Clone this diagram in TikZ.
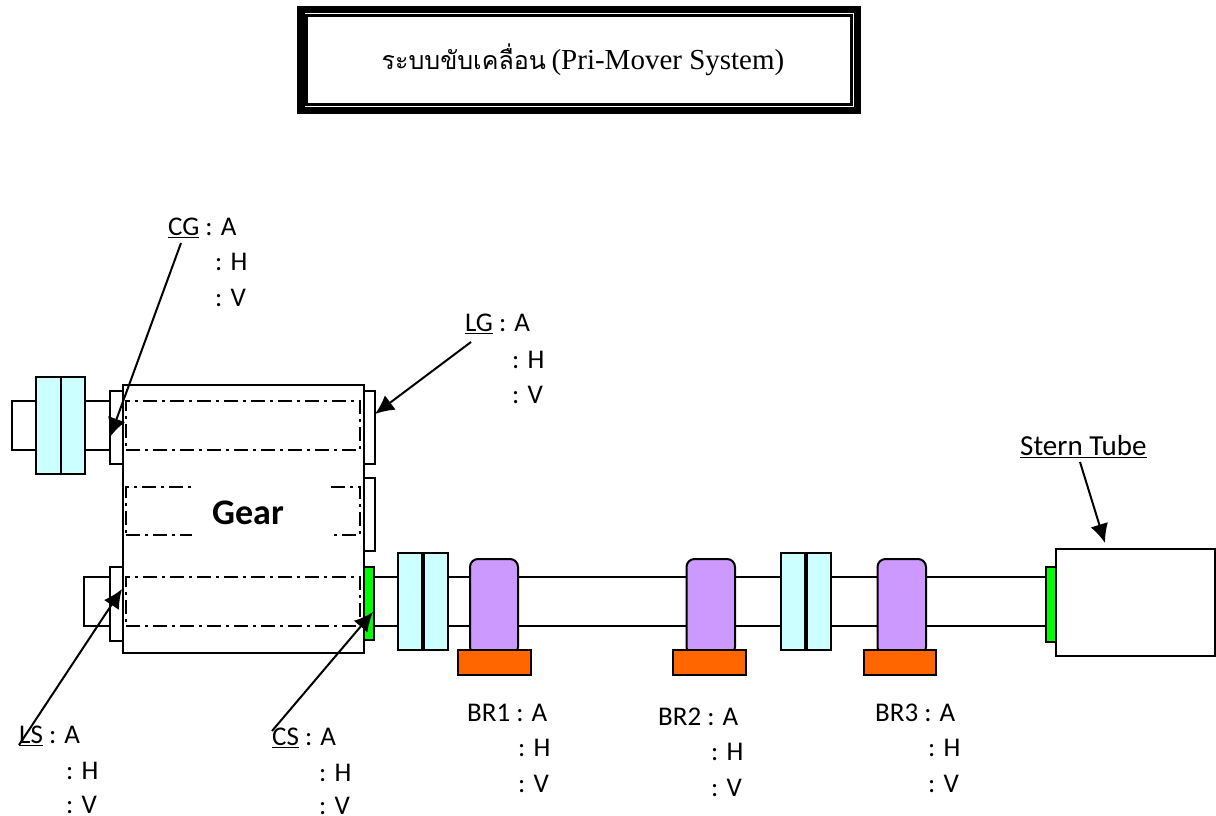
\documentclass[tikz,border=0pt]{standalone}
\usepackage{fontspec}
\setmainfont{Carlito}
\newfontfamily\thaifont[Script=Thai]{Loma}
\newfontfamily\titlefont{Liberation Serif}
\usetikzlibrary{arrows.meta}
\definecolor{cy}{RGB}{204,255,255}
\definecolor{pu}{RGB}{204,153,255}
\definecolor{or}{RGB}{255,102,0}
\definecolor{gr}{RGB}{0,255,0}
\tikzset{
 part/.style={draw=black,line width=2pt,rectangle,inner sep=0pt,outer sep=0pt},
 cyanp/.style={part,fill=cy},
 greenp/.style={part,fill=gr},
 orangep/.style={part,fill=or},
 purplep/.style={part,fill=pu,rounded corners=8pt},
 whitep/.style={part,fill=white},
 hidden/.style={fill=white,inner sep=0pt,outer sep=0pt},
 dashrect/.style={draw=black,line width=1.6pt,dash pattern=on 14pt off 5pt on 3pt off 5pt,rectangle,inner sep=0pt},
 lab/.style={anchor=west,inner sep=0pt,font=\fontsize{27}{29}\selectfont},
 pointer/.style={draw=black,line width=2pt,-{Latex[length=19pt,width=18pt]}},
}
% name, style, x1, y1, x2, y2
\newcommand{\bx}[6]{\node[#2,minimum width={(#5-#3)*1pt},minimum height={(#6-#4)*1pt}] (#1) at ({(#3+#5)/2},{(#4+#6)/2}) {};}
\begin{document}
\begin{tikzpicture}[x=1pt,y=-1pt]
\useasboundingbox (0,0) rectangle (1216,816);
% title
\node[fill=black,inner sep=0pt,minimum width=564pt,minimum height=108pt] (tout) at (579,60) {};
\node[fill=white,inner sep=0pt,minimum width=549pt,minimum height=93pt] (tmid) at (579,60) {};
\node[draw=black,line width=2.5pt,fill=white,inner sep=0pt,minimum width=545pt,minimum height=89pt] (tin) at (579,60) {};
\node[inner sep=0pt] (title) at (583,60) {\fontsize{25}{28}\selectfont{\thaifont ระบบขับเคลื่อน} \titlefont\fontsize{29}{30}\selectfont (Pri-Mover System)};
% shafts
\bx{sh1}{whitep}{360}{577}{400}{626}
\bx{sh2}{whitep}{448}{577}{472}{626}
\bx{sh3}{whitep}{516}{577}{688}{626}
\bx{sh4}{whitep}{733}{577}{783}{626}
\bx{sh5}{whitep}{829}{577}{880}{626}
\bx{sh6}{whitep}{924}{577}{1048}{626}
% left input
\bx{inA}{whitep}{12}{401}{38}{450}
\bx{inB}{whitep}{83}{401}{110}{450}
\bx{cL1}{cyanp}{36}{377}{60.5}{474}
\bx{cL2}{cyanp}{60.5}{377}{85}{474}
\bx{inC}{whitep}{84}{577}{110}{626}
% flanges
\bx{flUL}{whitep}{110}{391}{123}{464}
\bx{flLL}{whitep}{110}{567}{123}{641}
\bx{flUR}{whitep}{362}{391}{375}{464}
\bx{flMR}{whitep}{362}{478}{375}{551}
\bx{flLR}{greenp}{362}{567}{374}{640}
% gear
\bx{gear}{whitep}{122.5}{385}{363.5}{653}
\bx{d1}{dashrect}{126}{401}{360}{450}
\bx{d2}{dashrect}{126}{487}{360}{535}
\bx{d3}{dashrect}{126}{577}{360}{626}
\node[hidden,minimum width=137pt,minimum height=70pt] (gearbg) at (260,511) {};
\node[inner sep=0pt,font=\fontsize{36}{38}\selectfont\bfseries] (geart) at (248,513) {Gear};
% couplings
\bx{c1}{cyanp}{397.5}{553}{422}{650}
\bx{c2}{cyanp}{423.5}{553}{448}{650}
\bx{c3}{cyanp}{781}{553}{805}{650}
\bx{c4}{cyanp}{807}{553}{831}{650}
% bearings
\bx{b1}{purplep}{470}{559}{518}{655}
\bx{b2}{purplep}{686.5}{559}{735}{655}
\bx{b3}{purplep}{877.5}{559}{926}{655}
\bx{o1}{orangep}{457.5}{650}{530.5}{675}
\bx{o2}{orangep}{672.5}{650}{745.5}{675}
\bx{o3}{orangep}{863.5}{650}{936}{675}
% stern tube
\bx{gs}{greenp}{1046}{567}{1057}{642}
\bx{st}{whitep}{1056}{549}{1215}{656}
% labels
\node[lab] (CG) at (168,228) {\underline{CG} : A};
\node[lab] (CGh) at (215,262) {: H};
\node[lab] (CGv) at (215,298) {: V};
\node[lab] (LG) at (465,324) {\underline{LG} : A};
\node[lab] (LGh) at (512,360) {: H};
\node[lab] (LGv) at (512,395) {: V};
\node[lab] (LS) at (19,736) {\underline{LS} : A};
\node[lab] (LSh) at (66,771) {: H};
\node[lab] (LSv) at (66,805) {: V};
\node[lab] (CS) at (272,738) {\underline{CS} : A};
\node[lab] (CSh) at (319,773) {: H};
\node[lab] (CSv) at (319,806) {: V};
\node[lab] (BRa) at (467,713) {BR1 : A};
\node[lab] (BRah) at (518,748) {: H};
\node[lab] (BRav) at (518,784) {: V};
\node[lab] (BRb) at (658,717) {BR2 : A};
\node[lab] (BRbh) at (711,752) {: H};
\node[lab] (BRbv) at (711,788) {: V};
\node[lab] (BRc) at (875,713) {BR3 : A};
\node[lab] (BRch) at (928,748) {: H};
\node[lab] (BRcv) at (928,784) {: V};
\node[lab,font=\fontsize{29}{31}\selectfont] (stern) at (1020,447) {\underline{Stern Tube}};
% pointers
\coordinate (CGs) at (181,243); \coordinate (CGe) at (110,437);
\coordinate (LGs) at (471,342); \coordinate (LGe) at (375,414);
\coordinate (LSs) at (19,745);  \coordinate (LSe) at (122,589);
\coordinate (CSs) at (272,731); \coordinate (CSe) at (373,612);
\coordinate (STs) at (1080,462); \coordinate (STe) at (1105,543);
\draw[pointer] (CGs) -- (CGe);
\draw[pointer] (LGs) -- (LGe);
\draw[pointer] (LSs) -- (LSe);
\draw[pointer] (CSs) -- (CSe);
\draw[pointer] (STs) -- (STe);
\end{tikzpicture}
\end{document}
